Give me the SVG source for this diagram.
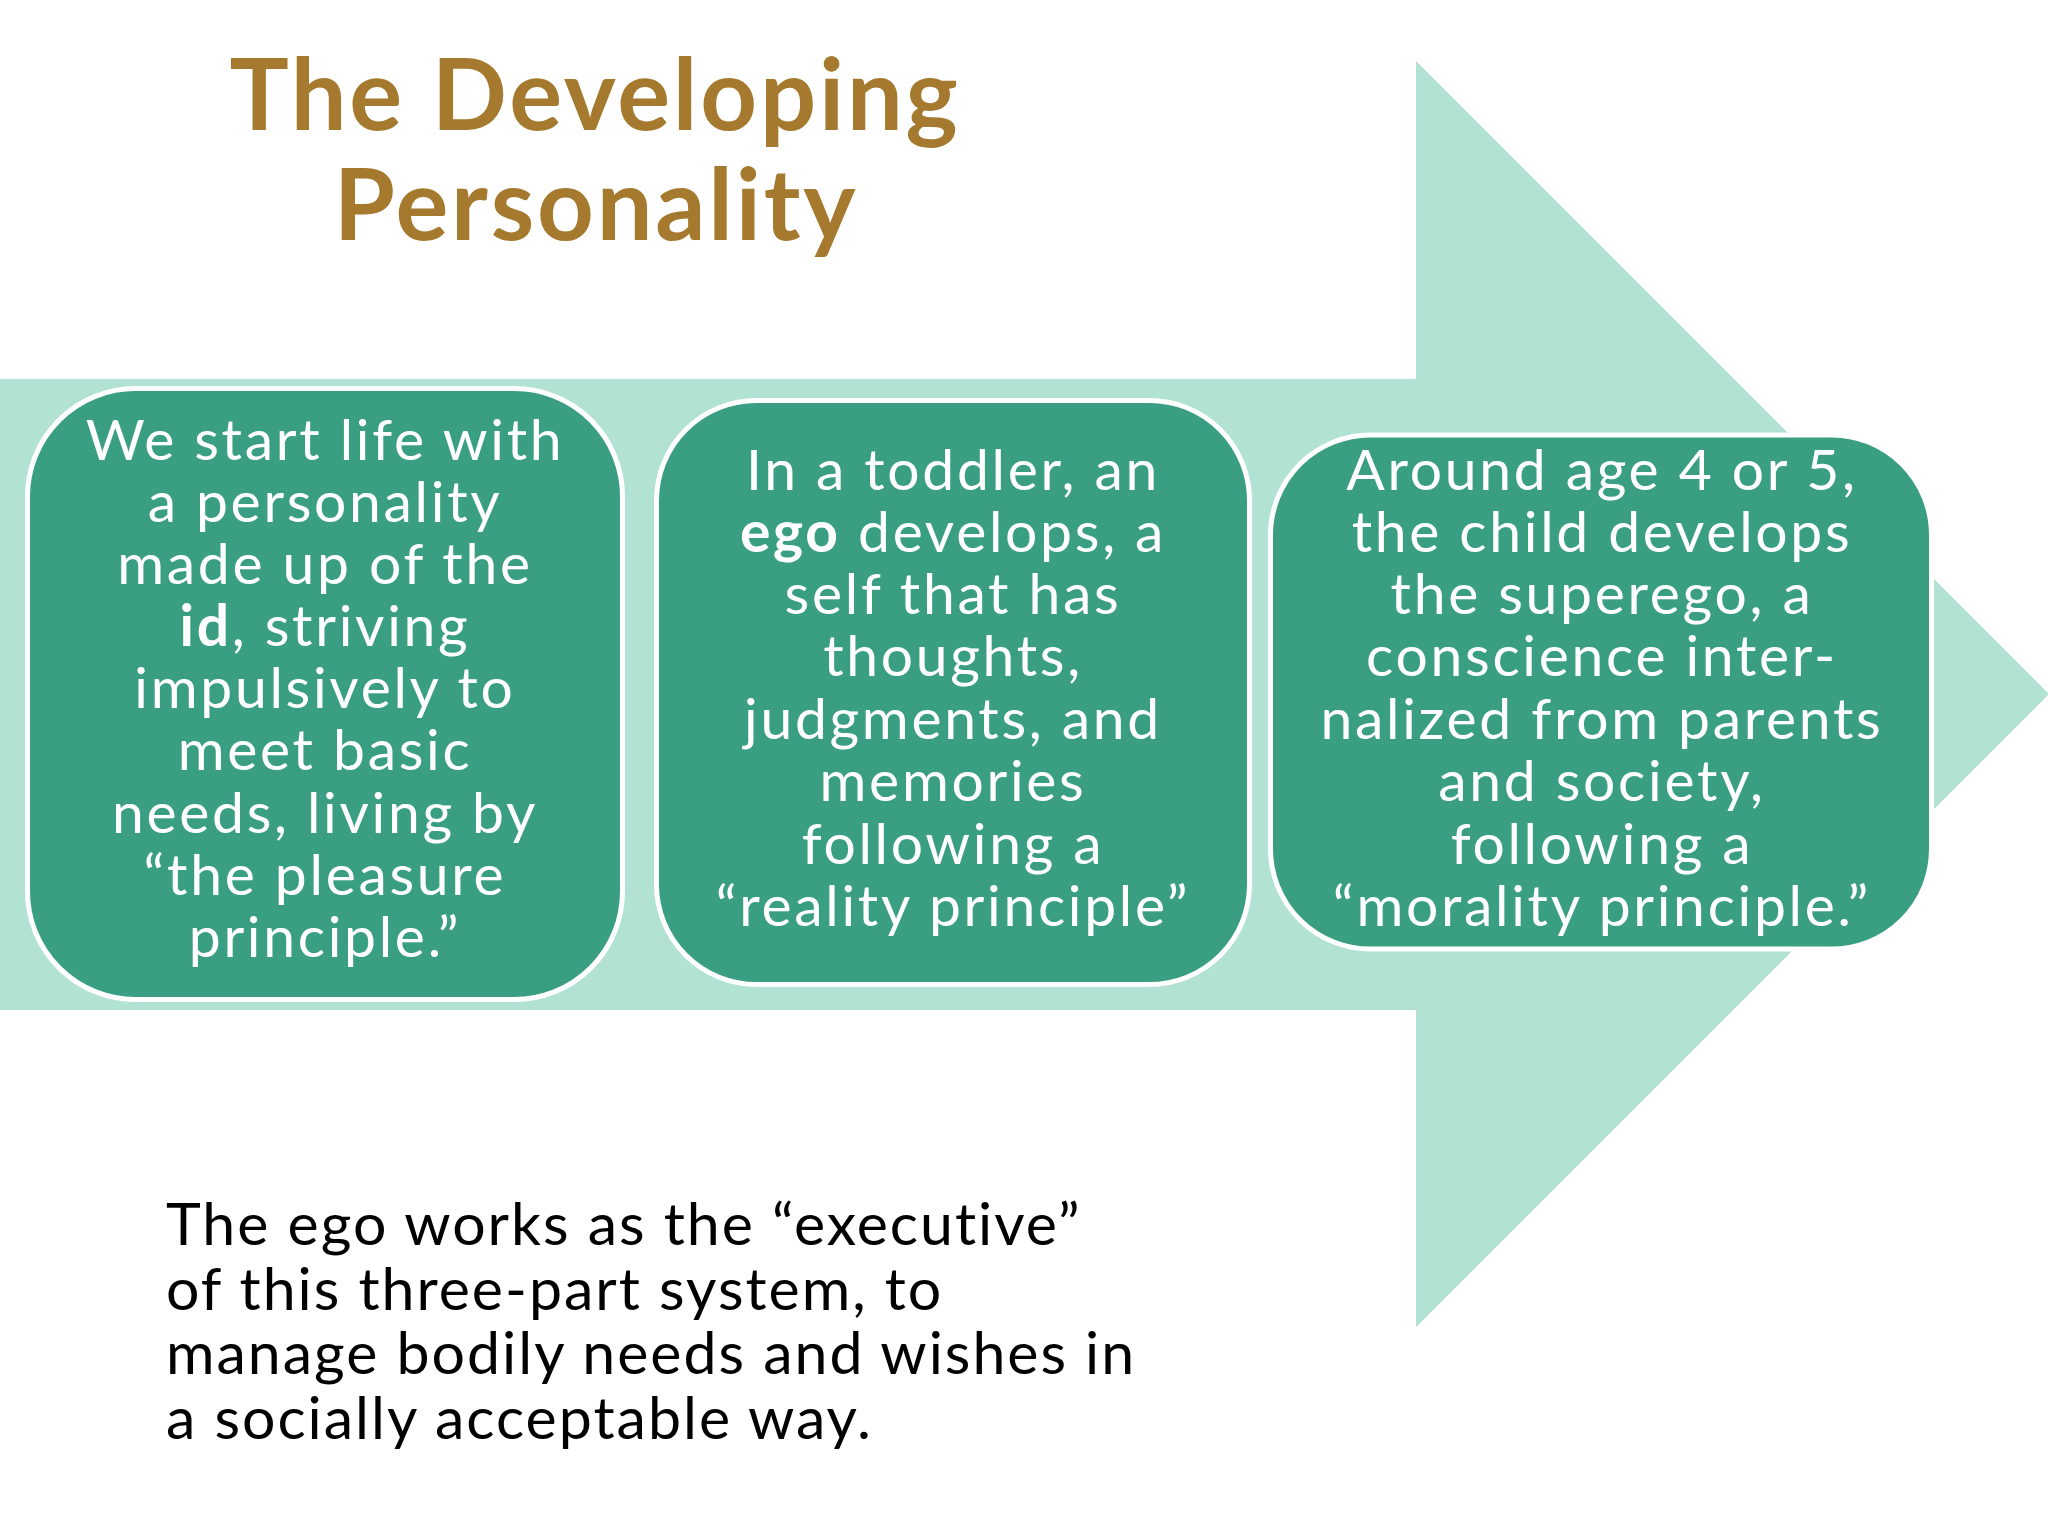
<svg xmlns="http://www.w3.org/2000/svg" width="2048" height="1536" viewBox="0 0 2048 1536">
<style>
.bg{fill:#ffffff}
.arrow{fill:#b2e2d3}
.box{fill:#3a9e82;stroke:#ffffff;stroke-width:5}
.title{font-family:Lato,"Liberation Sans",sans-serif;font-weight:bold;font-size:99px;letter-spacing:2.8px;fill:#a67a2e;text-anchor:middle}
.bt{font-family:Lato,"Liberation Sans",sans-serif;font-size:57px;letter-spacing:2.7px;fill:#ffffff;text-anchor:middle}
.note{font-family:Lato,"Liberation Sans",sans-serif;font-size:59px;letter-spacing:2px;fill:#000000}
.b{font-weight:bold}
</style>
<rect class="bg" x="0" y="0" width="2048" height="1536"/>
<g id="connectors">
<polygon class="arrow" points="0,379 1416,379 1416,61 2049,694 1416,1327 1416,1010 0,1010"/>
</g>
<g id="title">
<text class="title" x="595" y="130">The Developing</text>
<text class="title" x="596" y="240">Personality</text>
</g>
<g id="node-id">
<rect class="box" x="27.5" y="388.5" width="595" height="611" rx="108" ry="108"/>
<text class="bt" x="325" y="460">We start life with</text>
<text class="bt" x="325" y="522">a personality</text>
<text class="bt" x="325" y="584">made up of the</text>
<text class="bt" x="325" y="646"><tspan class="b">id</tspan>, striving</text>
<text class="bt" x="325" y="708">impulsively to</text>
<text class="bt" x="325" y="770">meet basic</text>
<text class="bt" x="325" y="833">needs, living by</text>
<text class="bt" x="325" y="895">“the pleasure</text>
<text class="bt" x="325" y="957">principle.”</text>
</g>
<g id="node-ego">
<rect class="box" x="656.5" y="400.5" width="593" height="584" rx="100" ry="100"/>
<text class="bt" x="953" y="490">In a toddler, an</text>
<text class="bt" x="953" y="552"><tspan class="b">ego</tspan> develops, a</text>
<text class="bt" x="953" y="614">self that has</text>
<text class="bt" x="953" y="676">thoughts,</text>
<text class="bt" x="953" y="739">judgments, and</text>
<text class="bt" x="953" y="801">memories</text>
<text class="bt" x="953" y="864">following a</text>
<text class="bt" x="953" y="926">“reality principle”</text>
</g>
<g id="node-superego">
<rect class="box" x="1270.5" y="435" width="661" height="514" rx="100" ry="100"/>
<text class="bt" x="1602" y="490">Around age 4 or 5,</text>
<text class="bt" x="1602" y="552">the child develops</text>
<text class="bt" x="1602" y="614">the superego, a</text>
<text class="bt" x="1602" y="676">conscience inter-</text>
<text class="bt" x="1602" y="739">nalized from parents</text>
<text class="bt" x="1602" y="801">and society,</text>
<text class="bt" x="1602" y="864">following a</text>
<text class="bt" x="1602" y="926">“morality principle.”</text>
</g>
<g id="note">
<text class="note" x="166" y="1245">The ego works as the “executive”</text>
<text class="note" x="166" y="1310">of this three-part system, to</text>
<text class="note" x="166" y="1374">manage bodily needs and wishes in</text>
<text class="note" x="166" y="1439">a socially acceptable way.</text>
</g>
</svg>
